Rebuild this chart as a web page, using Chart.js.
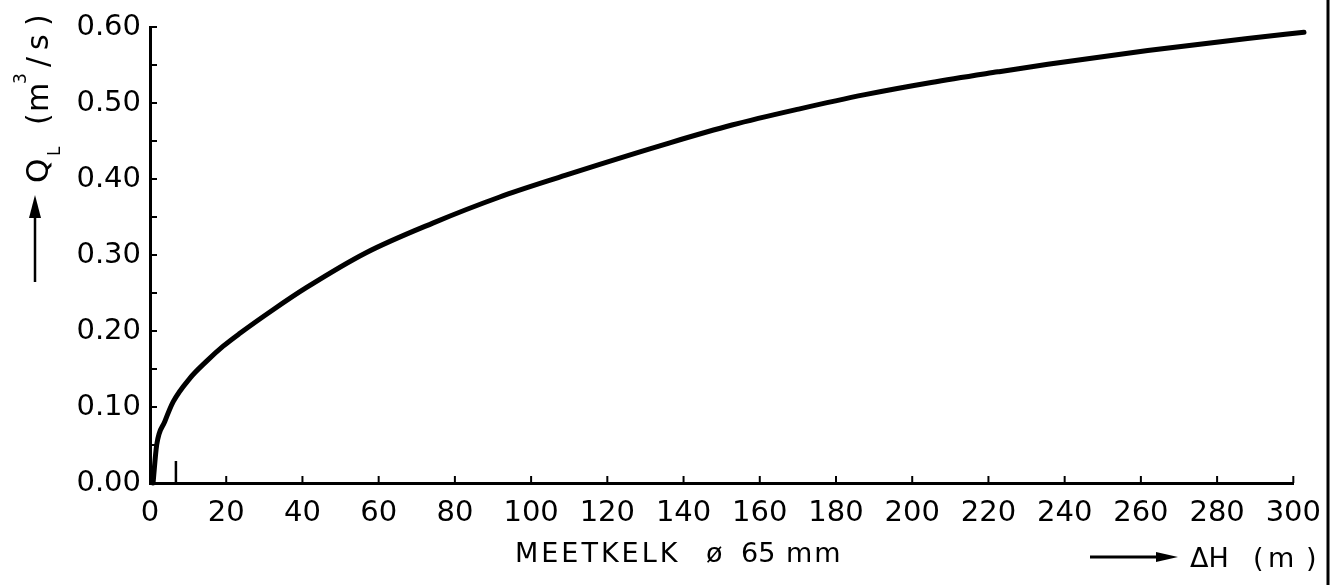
<!DOCTYPE html>
<html>
<head>
<meta charset="utf-8">
<script src="https://cdn.jsdelivr.net/npm/chart.js@4/dist/chart.umd.min.js"></script>
<style>
  html, body { margin: 0; padding: 0; background: #fff; }
  #wrap { position: relative; width: 1334px; height: 585px; }
</style>
</head>
<body>
<div id="wrap"><canvas id="myChart" width="1334" height="585"></canvas></div>
<script>
// leak flow Q_L against head ΔH, measuring cup 65 mm
var deltaH = [0.8, 1.75, 3.9, 6.1, 10.5, 14.8, 19.2, 23.6, 32.3, 41.0, 56.7, 74.2, 91.6, 109.1, 117.8,
              135.3, 152.7, 170.2, 187.6, 205.0, 222.5, 235.6, 261.8, 288.0, 302.8];
var flowQ = [0.000, 0.050, 0.081, 0.107, 0.138, 0.160, 0.180, 0.197, 0.228, 0.257, 0.303, 0.342, 0.376, 0.405, 0.419,
             0.446, 0.471, 0.492, 0.511, 0.527, 0.541, 0.551, 0.569, 0.585, 0.593];
var xTicks = [0, 20, 40, 60, 80, 100, 120, 140, 160, 180, 200, 220, 240, 260, 280, 300];
var yTicks = [0.00, 0.10, 0.20, 0.30, 0.40, 0.50, 0.60];
var yMinor = [0.05, 0.15, 0.25, 0.35, 0.45, 0.55];
var markerH = 6.8;

var FONT = '"DejaVu Sans", sans-serif';

function seg(ctx, x1, y1, x2, y2) {
    ctx.beginPath();
    ctx.moveTo(x1, y1);
    ctx.lineTo(x2, y2);
    ctx.stroke();
}

function arrowHead(ctx, tipX, tipY, baseX, baseY, half) {
    var dx = tipX - baseX, dy = tipY - baseY;
    var len = Math.sqrt(dx * dx + dy * dy);
    var nx = -dy / len * half, ny = dx / len * half;
    ctx.beginPath();
    ctx.moveTo(tipX, tipY);
    ctx.lineTo(baseX + nx, baseY + ny);
    ctx.lineTo(baseX - nx, baseY - ny);
    ctx.closePath();
    ctx.fill();
}

// inward ticks, axis titles with arrows and the frame line on the right
var paperMarks = {
    id: 'paperMarks',
    afterDraw: function(chart) {
        var ctx = chart.ctx;
        var sx = chart.scales.x, sy = chart.scales.y;
        var left = chart.chartArea.left, bottom = chart.chartArea.bottom;
        ctx.save();
        ctx.strokeStyle = '#000';
        ctx.fillStyle = '#000';

        ctx.lineWidth = 2;
        yTicks.concat(yMinor).forEach(function(v) {
            var py = sy.getPixelForValue(v);
            seg(ctx, left, py, left + 7, py);
        });
        xTicks.forEach(function(v) {
            var px = sx.getPixelForValue(v);
            seg(ctx, px, bottom, px, bottom - 7);
        });
        ctx.lineWidth = 2.5;
        var mx = sx.getPixelForValue(markerH);
        seg(ctx, mx, bottom, mx, bottom - 22);

        // vertical title: arrow, Q_L (m3/s)
        ctx.lineWidth = 2.5;
        seg(ctx, 35, 282, 35, 214);
        arrowHead(ctx, 35, 195, 35, 218, 6);
        ctx.save();
        ctx.rotate(-Math.PI / 2);
        ctx.textBaseline = 'alphabetic';
        ctx.font = '31px ' + FONT; ctx.fillText('Q', -183, 48);
        ctx.font = '17px ' + FONT; ctx.fillText('L', -156, 60);
        ctx.font = '30px ' + FONT;
        ctx.fillText('(', -125, 48);
        ctx.fillText('m', -112, 48);
        ctx.fillText('/', -67, 48);
        ctx.fillText('s', -50, 48);
        ctx.fillText(')', -26, 48);
        ctx.font = '17px ' + FONT; ctx.fillText('3', -84, 26);
        ctx.restore();

        // horizontal title
        ctx.textBaseline = 'alphabetic';
        ctx.font = '27px ' + FONT;
        ctx.letterSpacing = '3px';
        ctx.fillText('MEETKELK', 515, 562);
        ctx.letterSpacing = '0px';
        ctx.fillText('ø', 706, 562);
        ctx.fillText('65', 741, 562);
        ctx.letterSpacing = '2px';
        ctx.fillText('mm', 786, 562);
        ctx.letterSpacing = '0px';

        // ΔH (m) with arrow
        ctx.lineWidth = 3;
        seg(ctx, 1090, 557, 1162, 557);
        arrowHead(ctx, 1178, 557, 1156, 557, 5);
        ctx.font = '27px ' + FONT;
        ctx.fillText('ΔH', 1190, 567);
        ctx.fillText('(', 1253, 567);
        ctx.fillText('m', 1268, 567);
        ctx.fillText(')', 1306, 567);

        // frame line at the right edge
        ctx.lineWidth = 3;
        seg(ctx, 1328, 0, 1328, 585);
        ctx.restore();
    }
};

var points = deltaH.map(function(h, i) { return { x: h, y: flowQ[i] }; });

var ctx = document.getElementById('myChart').getContext('2d');
var chart = new Chart(ctx, {
    type: 'line',
    data: {
        datasets: [{
            data: points,
            borderColor: '#000',
            borderWidth: 5,
            pointRadius: 0,
            cubicInterpolationMode: 'monotone',
            borderCapStyle: 'round',
            clip: false
        }]
    },
    options: {
        responsive: false,
        animation: false,
        layout: { padding: { left: 0, right: 37, top: 27, bottom: 0 } },
        plugins: { legend: { display: false }, tooltip: { enabled: false } },
        scales: {
            x: {
                type: 'linear',
                min: 0,
                max: 300,
                afterFit: function(scale) { scale.height = 102; },
                afterBuildTicks: function(scale) {
                    scale.ticks = xTicks.map(function(v) { return { value: v }; });
                },
                grid: { display: true, drawOnChartArea: false, drawTicks: false },
                border: { display: true, color: '#000', width: 3 },
                ticks: {
                    color: '#000',
                    font: { family: FONT, size: 29 },
                    padding: 13,
                    maxRotation: 0,
                    autoSkip: false
                }
            },
            y: {
                min: 0,
                max: 0.6,
                afterFit: function(scale) { scale.width = 150; },
                afterBuildTicks: function(scale) {
                    scale.ticks = yTicks.map(function(v) { return { value: v }; });
                },
                grid: { display: true, drawOnChartArea: false, drawTicks: false },
                border: { display: true, color: '#000', width: 3 },
                ticks: {
                    color: '#000',
                    font: { family: FONT, size: 29 },
                    padding: 9,
                    callback: function(v) { return v.toFixed(2); }
                }
            }
        }
    },
    plugins: [paperMarks]
});
</script>
</body>
</html>
